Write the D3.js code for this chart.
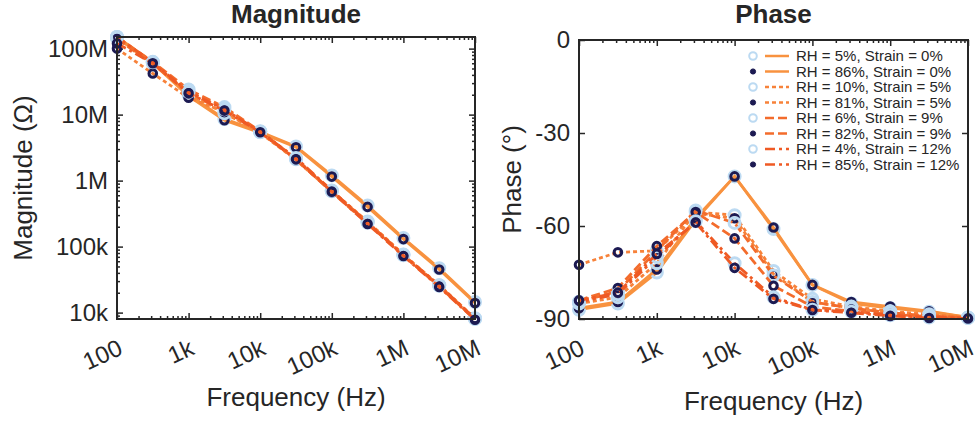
<!DOCTYPE html>
<html>
<head>
<meta charset="utf-8">
<script src="https://cdn.jsdelivr.net/npm/d3@7"></script>
<style>
  body { margin: 0; background: #fff; }
  text { font-family: "Liberation Sans", Arial, sans-serif; fill: #262626; }
</style>
</head>
<body>
<svg id="chart" width="979" height="421"></svg>
<script>
// ---- data ----
const freqs = [100, 316.2, 1000, 3162, 10000, 31620, 100000, 316200, 1000000, 3162000, 10000000];

const seriesNames = [
  "RH = 5%, Strain = 0%", "RH = 86%, Strain = 0%",
  "RH = 10%, Strain = 5%", "RH = 81%, Strain = 5%",
  "RH = 6%, Strain = 9%", "RH = 82%, Strain = 9%",
  "RH = 4%, Strain = 12%", "RH = 85%, Strain = 12%"
];
const strainLevel = [0, 0, 5, 5, 9, 9, 12, 12];
const highRH = [false, true, false, true, false, true, false, true];

// magnitude (ohm)
const mag_s0_rh5   = [1.5e8, 6.2e7, 2.0e7, 8.6e6, 5.5e6, 3.3e6, 1.2e6, 4.2e5, 1.35e5, 4.7e4, 1.45e4];
const mag_s0_rh86  = [1.45e8, 6.0e7, 1.9e7, 8.2e6, 5.3e6, 3.2e6, 1.15e6, 4.0e5, 1.3e5, 4.5e4, 1.4e4];
const mag_s5_rh10  = [1.45e8, 6.0e7, 2.1e7, 1.05e7, 5.4e6, 2.1e6, 7.0e5, 2.4e5, 7.6e4, 2.6e4, 8.2e3];
const mag_s5_rh81  = [1.0e8, 4.2e7, 1.8e7, 1.1e7, 5.3e6, 2.05e6, 6.8e5, 2.3e5, 7.4e4, 2.5e4, 8.0e3];
const mag_s9_rh6   = [1.5e8, 6.3e7, 2.4e7, 1.3e7, 5.6e6, 2.15e6, 6.9e5, 2.35e5, 7.5e4, 2.55e4, 8.1e3];
const mag_s9_rh82  = [1.4e8, 5.8e7, 2.2e7, 1.25e7, 5.5e6, 2.1e6, 6.7e5, 2.25e5, 7.3e4, 2.5e4, 7.9e3];
const mag_s12_rh4  = [1.5e8, 6.2e7, 2.2e7, 1.2e7, 5.5e6, 2.2e6, 7.1e5, 2.3e5, 7.4e4, 2.6e4, 8.0e3];
const mag_s12_rh85 = [1.2e8, 6.0e7, 2.1e7, 1.15e7, 5.4e6, 2.1e6, 6.8e5, 2.2e5, 7.2e4, 2.45e4, 7.8e3];

// phase (degrees)
const ph_s0_rh5   = [-87, -85, -75, -58, -44, -61, -79, -85, -86.5, -87.7, -89.5];
const ph_s0_rh86  = [-86.5, -84.5, -74, -57.5, -44, -60.5, -79, -84.5, -86, -87.5, -89.5];
const ph_s5_rh10  = [-85, -83, -72, -55.5, -56.5, -74.5, -83.5, -86, -87.5, -88.5, -89.5];
const ph_s5_rh81  = [-72.5, -68.5, -68, -56, -57.5, -75.5, -84.5, -86.5, -88, -89, -89.5];
const ph_s9_rh6   = [-84.5, -81, -68, -55, -59, -76, -84.5, -86.5, -88, -89, -89.6];
const ph_s9_rh82  = [-84, -80, -66.5, -55.5, -64, -79.3, -86, -87.5, -88.5, -89.2, -89.6];
const ph_s12_rh4  = [-84.5, -82, -70, -58.5, -72, -83, -87, -87.7, -88.8, -89.5, -89.7];
const ph_s12_rh85 = [-84, -81.5, -69, -58.9, -73.5, -83.5, -87.1, -88, -89, -89.7, -89.8];

const magSeries = [mag_s0_rh5, mag_s0_rh86, mag_s5_rh10, mag_s5_rh81, mag_s9_rh6, mag_s9_rh82, mag_s12_rh4, mag_s12_rh85];
const phaseSeries = [ph_s0_rh5, ph_s0_rh86, ph_s5_rh10, ph_s5_rh81, ph_s9_rh6, ph_s9_rh82, ph_s12_rh4, ph_s12_rh85];

const freqTicks = [100, 1e3, 1e4, 1e5, 1e6, 1e7];
const freqTickLabels = ["100", "1k", "10k", "100k", "1M", "10M"];
const magTicks = [1e4, 1e5, 1e6, 1e7, 1e8];
const magTickLabels = ["10k", "100k", "1M", "10M", "100M"];
const phaseTicks = [-90, -60, -30, 0];

// ---- styles ----
const strainStyle = {
  0:  { color: "#F8923F", dash: null },
  5:  { color: "#F7823A", dash: "4,3" },
  9:  { color: "#F36C2C", dash: "9,4" },
  12: { color: "#EF5A24", dash: "10,4,3,4" }
};
const lowColor = "#BCDAF2";
const highColor = "#1C1A52";
const axisColor = "#262626";

const svg = d3.select("#chart");

function logMinors(lo, hi) {
  let out = [];
  for (let e = Math.floor(Math.log10(lo)); e <= Math.ceil(Math.log10(hi)); e++) {
    for (let m = 2; m <= 9; m++) {
      let v = m * Math.pow(10, e);
      if (v > lo && v < hi) out.push(v);
    }
  }
  return out;
}

function drawPanel(p) {
  const g = svg.append("g");
  const x = d3.scaleLog().domain([100, 1e7]).range([p.left, p.right]);
  const y = p.y;

  // minor ticks (x, both sides)
  const xMinor = logMinors(100, 1e7);
  g.append("g").attr("transform", "translate(0," + p.bottom + ")")
    .call(d3.axisBottom(x).tickValues(xMinor).tickSize(-3).tickFormat(""));
  g.append("g").attr("transform", "translate(0," + p.top + ")")
    .call(d3.axisTop(x).tickValues(xMinor).tickSize(-3).tickFormat(""));
  if (p.yMinor) {
    g.append("g").attr("transform", "translate(" + p.left + ",0)")
      .call(d3.axisLeft(y).tickValues(p.yMinor).tickSize(-3).tickFormat(""));
    g.append("g").attr("transform", "translate(" + p.right + ",0)")
      .call(d3.axisRight(y).tickValues(p.yMinor).tickSize(-3).tickFormat(""));
  }

  // major ticks
  const xb = g.append("g").attr("transform", "translate(0," + p.bottom + ")")
    .call(d3.axisBottom(x).tickValues(freqTicks).tickSize(-6)
      .tickFormat((d, i) => freqTickLabels[i]));
  xb.selectAll(".tick text")
    .attr("x", 0).attr("y", 0).attr("dy", "0.35em")
    .attr("text-anchor", "end")
    .attr("transform", "translate(3,27) rotate(-25)");
  g.append("g").attr("transform", "translate(0," + p.top + ")")
    .call(d3.axisTop(x).tickValues(freqTicks).tickSize(-6).tickFormat(""));
  g.append("g").attr("transform", "translate(" + p.left + ",0)")
    .call(d3.axisLeft(y).tickValues(p.yTicks).tickSize(-6).tickPadding(9)
      .tickFormat((d, i) => p.yTickLabels[i]));
  g.append("g").attr("transform", "translate(" + p.right + ",0)")
    .call(d3.axisRight(y).tickValues(p.yTicks).tickSize(-6).tickFormat(""));

  g.selectAll(".domain").remove();
  g.selectAll(".tick line").attr("stroke", axisColor).attr("stroke-width", 1.5);
  g.selectAll(".tick text").style("font-size", "24px").attr("fill", axisColor);

  // series
  const line = d3.line().x((d, i) => x(freqs[i])).y(d => y(d));
  p.series.forEach((vals, k) => {
    const st = strainStyle[strainLevel[k]];
    g.append("path").datum(vals)
      .attr("d", line)
      .attr("fill", "none")
      .attr("stroke", st.color)
      .attr("stroke-width", 2.8)
      .attr("stroke-dasharray", st.dash);
    g.selectAll(null).data(vals).enter().append("circle")
      .attr("cx", (d, i) => x(freqs[i]))
      .attr("cy", d => y(d))
      .attr("r", highRH[k] ? 3.8 : 5.5)
      .attr("fill", "none")
      .attr("stroke", highRH[k] ? highColor : lowColor)
      .attr("stroke-width", 3);
  });

  // box
  g.append("rect")
    .attr("x", p.left).attr("y", p.top)
    .attr("width", p.right - p.left).attr("height", p.bottom - p.top)
    .attr("fill", "none").attr("stroke", axisColor).attr("stroke-width", 2);

  // title and labels
  g.append("text").attr("x", (p.left + p.right) / 2).attr("y", 23)
    .attr("text-anchor", "middle").style("font-size", "26px").style("font-weight", "bold")
    .text(p.title);
  g.append("text").attr("x", (p.left + p.right) / 2).attr("y", p.xLabelY)
    .attr("text-anchor", "middle").style("font-size", "26px")
    .text("Frequency (Hz)");
  g.append("text")
    .attr("transform", "translate(" + p.yLabelX + "," + ((p.top + p.bottom) / 2) + ") rotate(-90)")
    .attr("text-anchor", "middle").style("font-size", "26px")
    .text(p.yLabel);
  return { g: g, x: x, y: y };
}

const magPanel = drawPanel({
  left: 117, right: 475, top: 37, bottom: 319,
  y: d3.scaleLog().domain([8e3, 1.5e8]).range([319, 37]),
  yTicks: magTicks, yTickLabels: magTickLabels, yMinor: logMinors(8e3, 1.5e8),
  series: magSeries, title: "Magnitude", yLabel: "Magnitude (\u03A9)",
  xLabelY: 406, yLabelX: 32
});

const phasePanel = drawPanel({
  left: 579, right: 968, top: 40, bottom: 319,
  y: d3.scaleLinear().domain([-90, 0]).range([319, 40]),
  yTicks: phaseTicks, yTickLabels: phaseTicks.map(String), yMinor: null,
  series: phaseSeries, title: "Phase", yLabel: "Phase (\u00B0)",
  xLabelY: 410, yLabelX: 521
});

// legend
const legend = svg.append("g").attr("transform", "translate(753,56)");
seriesNames.forEach((name, k) => {
  const st = strainStyle[strainLevel[k]];
  const row = legend.append("g").attr("transform", "translate(0," + (k * 15.5) + ")");
  row.append("circle").attr("cx", 0).attr("cy", 0)
    .attr("r", highRH[k] ? 2.6 : 3.8)
    .attr("fill", highRH[k] ? highColor : "#fff")
    .attr("stroke", highRH[k] ? highColor : lowColor)
    .attr("stroke-width", highRH[k] ? 1 : 2);
  row.append("line").attr("x1", 12).attr("x2", 36).attr("y1", 0).attr("y2", 0)
    .attr("stroke", st.color).attr("stroke-width", 2.5)
    .attr("stroke-dasharray", st.dash);
  row.append("text").attr("x", 43).attr("y", 0).attr("dy", "0.35em")
    .style("font-size", "15px").text(name);
});
</script>
</body>
</html>
